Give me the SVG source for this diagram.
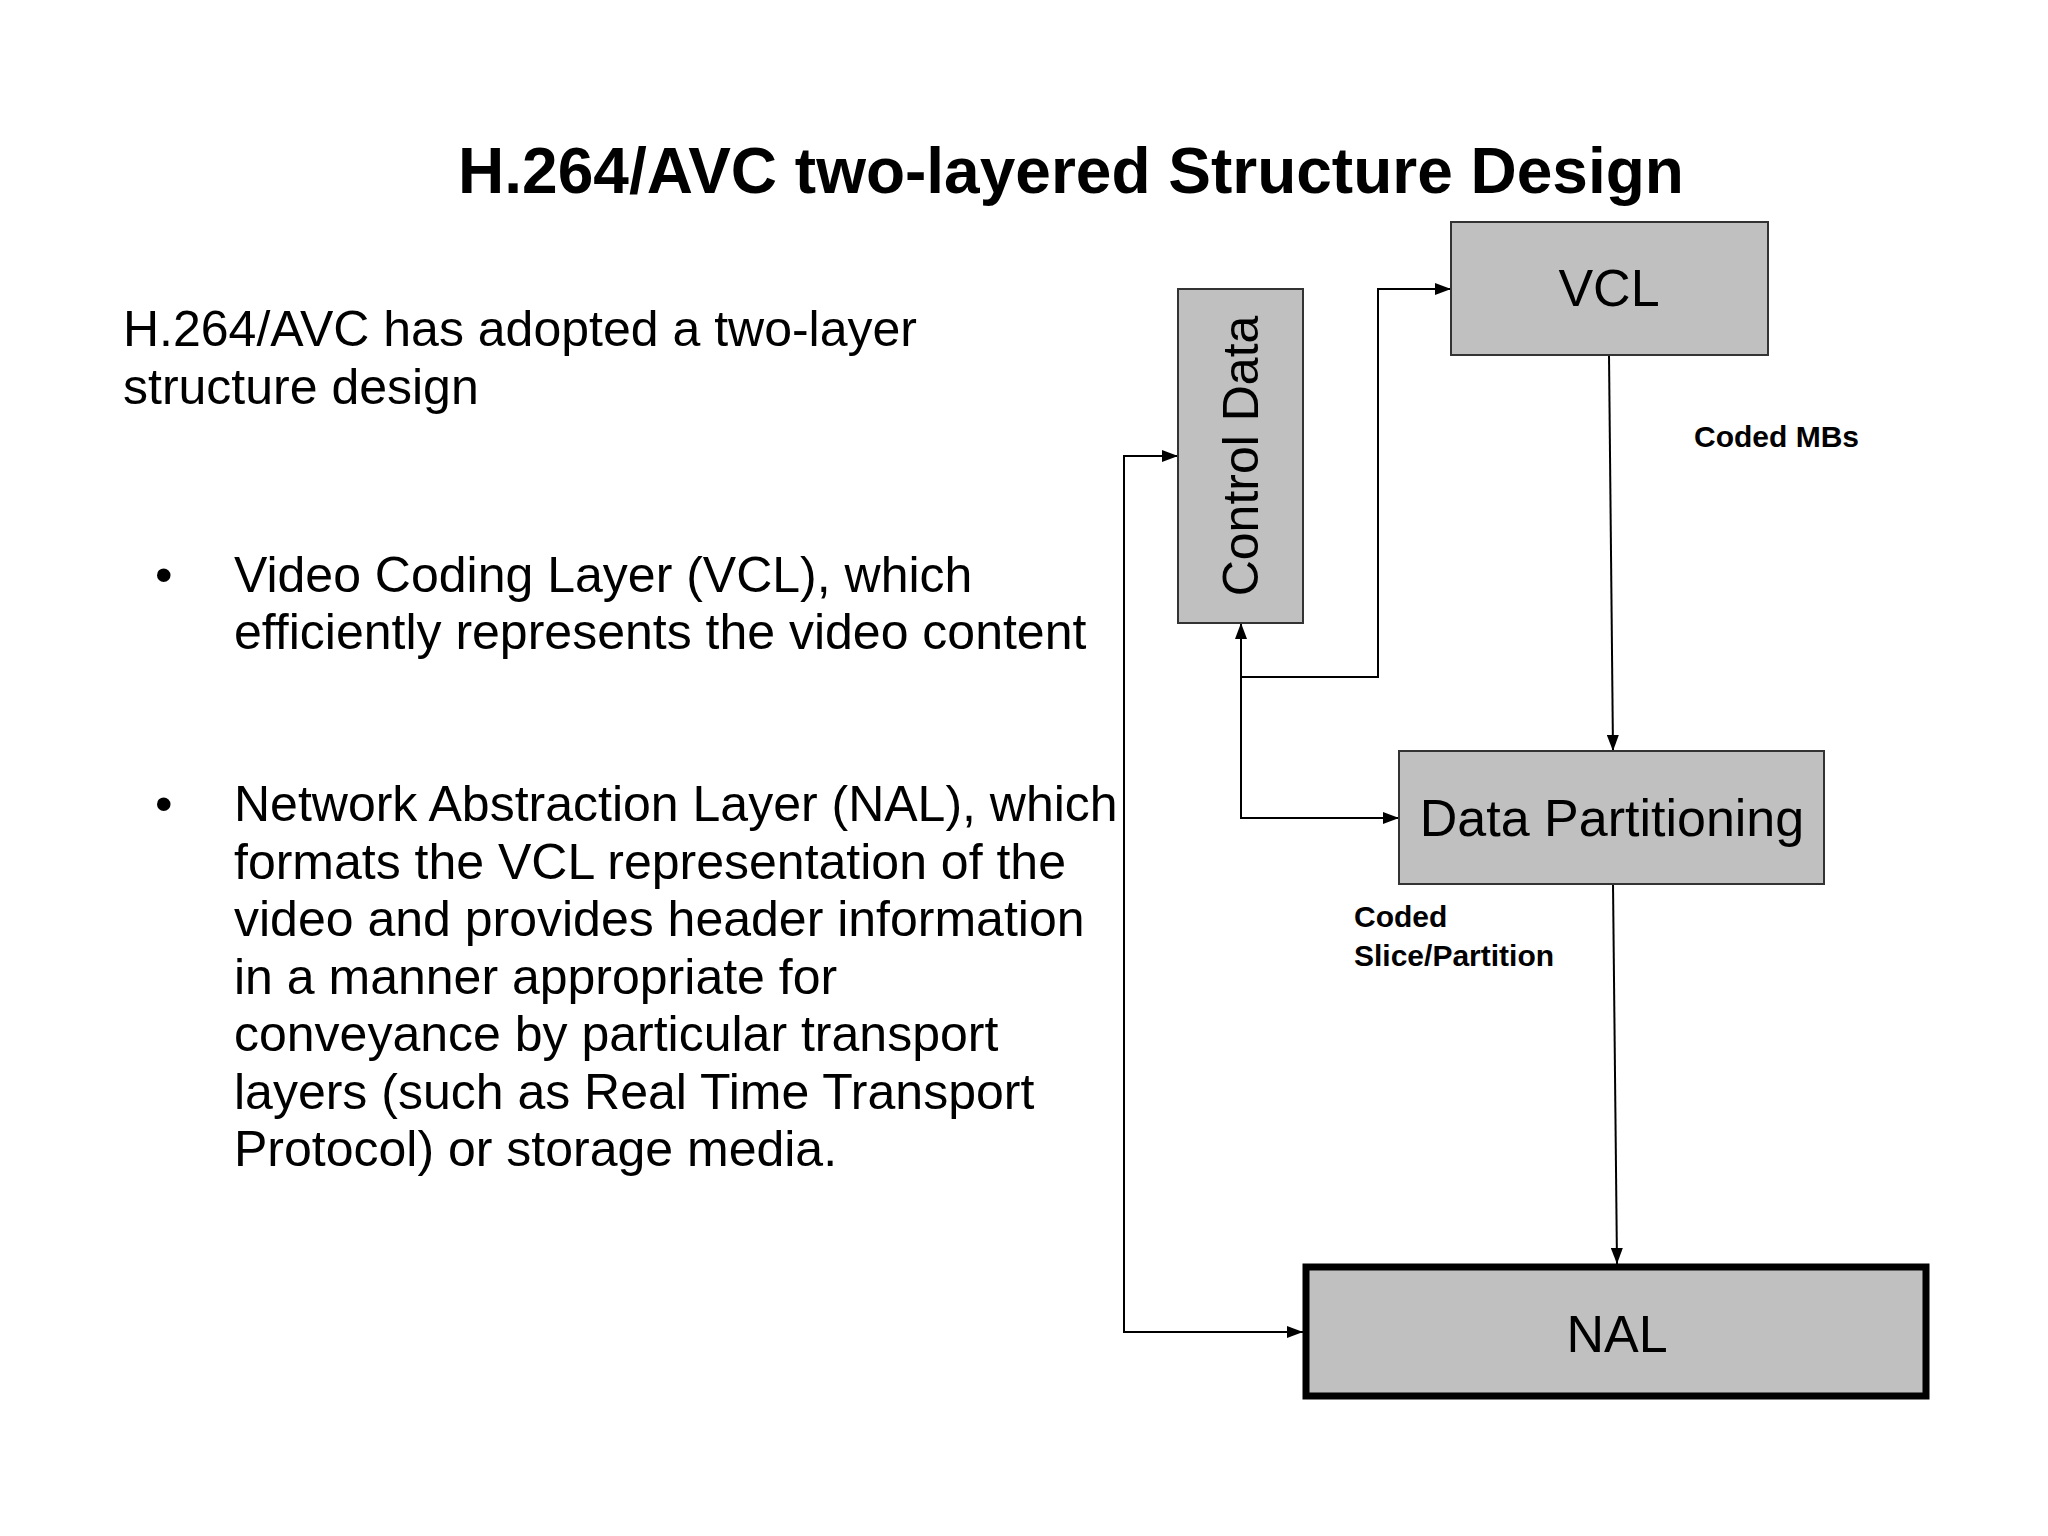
<svg xmlns="http://www.w3.org/2000/svg" width="2048" height="1536" viewBox="0 0 2048 1536">
<style>
.t{font-family:"Liberation Sans",Arial,sans-serif;fill:#000}
.box{fill:#c0c0c0;stroke:#333;stroke-width:2}
.c{fill:none;stroke:#000;stroke-width:2}
</style>
<defs><marker id="a" markerWidth="10" markerHeight="10" refX="9" refY="5" orient="auto" markerUnits="userSpaceOnUse"><path d="M0,0L10,5L0,10Z" fill="#000"/></marker>
<marker id="b" viewBox="0 0 16 12" markerWidth="16" markerHeight="12" refX="16" refY="6" orient="auto" markerUnits="userSpaceOnUse"><path d="M0,0L16,6L0,12Z" fill="#000"/></marker></defs>
<rect width="2048" height="1536" fill="#fff"/>
<text class="t" x="1071" y="193" font-size="64" font-weight="bold" text-anchor="middle">H.264/AVC two-layered Structure Design</text>
<g class="t" font-size="50">
<text x="123" y="346">H.264/AVC has adopted a two-layer</text>
<text x="123" y="404">structure design</text>
<text x="155" y="592">•</text>
<text x="234" y="592">Video Coding Layer (VCL), which</text>
<text x="234" y="649">efficiently represents the video content</text>
<text x="155" y="821">•</text>
<text x="234" y="821">Network Abstraction Layer (NAL), which</text>
<text x="234" y="879">formats  the VCL representation of the</text>
<text x="234" y="936">video and provides header information</text>
<text x="234" y="994">in a manner  appropriate for</text>
<text x="234" y="1051">conveyance by particular transport</text>
<text x="234" y="1109">layers (such as Real Time Transport</text>
<text x="234" y="1166">Protocol) or storage media.</text>
</g>
<g id="connectors">
<line class="c" x1="1609" y1="355" x2="1613" y2="751" marker-end="url(#b)"/>
<line class="c" x1="1613" y1="884" x2="1617" y2="1264" marker-end="url(#b)"/>
<polyline class="c" points="1241,677 1378,677 1378,289 1451,289" marker-end="url(#b)"/>
<polyline class="c" points="1241,677 1241,623" marker-end="url(#b)"/>
<polyline class="c" points="1241,677 1241,818 1399,818" marker-end="url(#b)"/>
<polyline class="c" points="1178,456 1124,456 1124,1332 1303,1332" marker-end="url(#b)"/>
<line class="c" x1="1124" y1="456" x2="1178" y2="456" marker-end="url(#b)"/>
</g>
<g id="control"><rect class="box" x="1178" y="289" width="125" height="334"/>
<text class="t" font-size="50" text-anchor="middle" transform="translate(1258,456) rotate(-90)">Control Data</text></g>
<g id="vcl"><rect class="box" x="1451" y="222" width="317" height="133"/>
<text class="t" x="1609" y="306" font-size="52" text-anchor="middle">VCL</text></g>
<g id="dp"><rect class="box" x="1399" y="751" width="425" height="133"/>
<text class="t" x="1612" y="836" font-size="52" text-anchor="middle">Data Partitioning</text></g>
<g id="nal"><rect x="1306" y="1267" width="620" height="129" fill="#c0c0c0" stroke="#000" stroke-width="7"/>
<text class="t" x="1617" y="1352" font-size="52" text-anchor="middle">NAL</text></g>
<text class="t" x="1694" y="447" font-size="30" font-weight="bold">Coded MBs</text>
<text class="t" x="1354" y="927" font-size="30" font-weight="bold">Coded</text>
<text class="t" x="1354" y="966" font-size="30" font-weight="bold">Slice/Partition</text>
</svg>
